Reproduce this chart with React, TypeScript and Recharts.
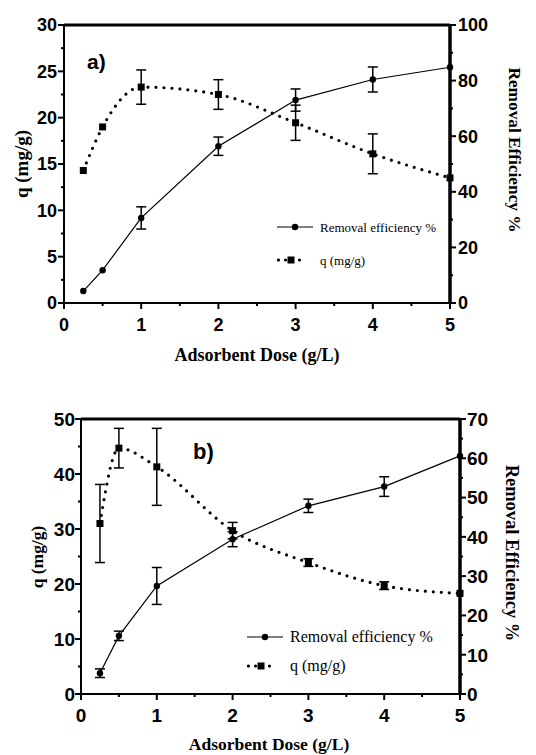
import { ComposedChart, Line, XAxis, YAxis, ErrorBar, ReferenceLine } from 'recharts';

const doses = [0.25, 0.5, 1, 2, 3, 4, 5];
const xTicks = [0, 0.5, 1, 1.5, 2, 2.5, 3, 3.5, 4, 4.5, 5];

// panel a
const removalA = [4.3, 11.8, 30.6, 56.4, 73, 80.4, 84.8];
const removalAErr = [0, 0, 4, 3.3, 4, 4.5, 0];
const qA = [14.3, 19.0, 23.3, 22.5, 19.45, 16.1, 13.5];
const qAErr = [0, 0, 1.85, 1.6, 1.9, 2.15, 0];
const leftTicksA = [0, 2.5, 5, 7.5, 10, 12.5, 15, 17.5, 20, 22.5, 25, 27.5, 30];
const rightTicksA = [0, 10, 20, 30, 40, 50, 60, 70, 80, 90, 100];

// panel b
const removalB = [5.3, 14.8, 27.5, 39.4, 47.9, 52.8, 60.6];
const removalBErr = [1.1, 1.2, 4.7, 1.9, 1.7, 2.5, 0];
const qB = [31.0, 44.7, 41.3, 29.7, 23.9, 19.7, 18.3];
const qBErr = [7.1, 3.6, 7.0, 1.5, 0.7, 0.7, 0];
const leftTicksB = [0, 5, 10, 15, 20, 25, 30, 35, 40, 45, 50];
const rightTicksB = [0, 5, 10, 15, 20, 25, 30, 35, 40, 45, 50, 55, 60, 65, 70];

const rowsA = doses.map((d, i) => ({ dose: d, removal: removalA[i], removalErr: removalAErr[i], q: qA[i], qErr: qAErr[i] }));
const rowsB = doses.map((d, i) => ({ dose: d, removal: removalB[i], removalErr: removalBErr[i], q: qB[i], qErr: qBErr[i] }));

const SANS = '"Liberation Sans", Arial, sans-serif';
const SERIF = '"Liberation Serif", "Times New Roman", serif';

const isMajor = (v: number, step: number) => Math.abs(v / step - Math.round(v / step)) < 1e-6;

function yTick(side: 'left' | 'right', step: number, fontSize: number, gap: number) {
    return (props: any) => {
        const { x, y, payload } = props;
        const v = payload.value;
        const major = isMajor(v, step);
        const dir = side === 'left' ? -1 : 1;
        const len = major ? 6 : 3;
        return (
            <g>
                <line x1={x} x2={x + dir * len} y1={y} y2={y} stroke="#000" strokeWidth={2} />
                {major && (
                    <text x={x + dir * gap} y={y} dy="0.36em" textAnchor={side === 'left' ? 'end' : 'start'}
                        fontFamily={SANS} fontWeight="bold" fontSize={fontSize} fill="#000">
                        {v}
                    </text>
                )}
            </g>
        );
    };
}

function xTick(fontSize: number, gap: number) {
    return (props: any) => {
        const { x, y, payload } = props;
        const v = payload.value;
        const major = isMajor(v, 1);
        return (
            <g>
                <line x1={x} x2={x} y1={y} y2={y + (major ? 6 : 3)} stroke="#000" strokeWidth={2} />
                {major && (
                    <text x={x} y={y + gap} dy="0.36em" textAnchor="middle"
                        fontFamily={SANS} fontWeight="bold" fontSize={fontSize} fill="#000">
                        {v}
                    </text>
                )}
            </g>
        );
    };
}

const circleDot = (p: any) => <circle key={`c-${p.index}`} cx={p.cx} cy={p.cy} r={3.2} fill="#000" />;
const squareDot = (p: any) => <rect key={`s-${p.index}`} x={p.cx - 3.5} y={p.cy - 3.5} width={7} height={7} fill="#000" />;

type PanelProps = {
    rows: any[];
    height: number;
    margin: { top: number; right: number; bottom: number; left: number };
    leftW: number;
    rightW: number;
    leftMax: number;
    rightMax: number;
    leftTicks: number[];
    rightTicks: number[];
    leftStep: number;
    rightStep: number;
    fontSize: number;
    gap: number;
    xGap: number;
};

function Panel(p: PanelProps) {
    return (
        <ComposedChart width={536} height={p.height} data={p.rows} margin={p.margin}>
            <XAxis dataKey="dose" type="number" domain={[0, 5]} ticks={xTicks} interval={0}
                height={30} tickSize={0} tickMargin={0} tickLine={false}
                axisLine={{ stroke: '#000', strokeWidth: 2 }} tick={xTick(p.fontSize, p.xGap)} />
            <YAxis yAxisId="left" orientation="left" domain={[0, p.leftMax]} ticks={p.leftTicks} interval={0}
                width={p.leftW} tickSize={0} tickMargin={0} tickLine={false}
                axisLine={{ stroke: '#000', strokeWidth: 2 }} tick={yTick('left', p.leftStep, p.fontSize, p.gap)} />
            <YAxis yAxisId="right" orientation="right" domain={[0, p.rightMax]} ticks={p.rightTicks} interval={0}
                width={p.rightW} tickSize={0} tickMargin={0} tickLine={false}
                axisLine={{ stroke: '#000', strokeWidth: 3.5 }} tick={yTick('right', p.rightStep, p.fontSize, p.gap + 1)} />
            <ReferenceLine yAxisId="left" y={p.leftMax} stroke="#000" strokeWidth={3} />
            <Line yAxisId="right" dataKey="removal" type="linear" stroke="#000" strokeWidth={1.2}
                dot={circleDot} activeDot={false} isAnimationActive={false}>
                <ErrorBar dataKey="removalErr" width={5} stroke="#000" strokeWidth={1.5} direction="y" />
            </Line>
            <Line yAxisId="left" dataKey="q" type="monotone" stroke="#000" strokeWidth={3.2}
                strokeDasharray="0 8" strokeLinecap="round" dot={squareDot} activeDot={false} isAnimationActive={false}>
                <ErrorBar dataKey="qErr" width={5} stroke="#000" strokeWidth={1.5} direction="y" />
            </Line>
        </ComposedChart>
    );
}

const abs = (left: number, top: number, extra: any = {}) => ({ position: 'absolute' as const, left, top, ...extra });

function VText({ x, y, text, rot, size }: { x: number; y: number; text: string; rot: number; size: number }) {
    return (
        <div style={abs(x, y, {
            transform: `translate(-50%, -50%) rotate(${rot}deg)`, whiteSpace: 'nowrap',
            fontFamily: SERIF, fontWeight: 'bold', fontSize: size, lineHeight: 1,
        })}>
            {text}
        </div>
    );
}

function LegendBox({ x, y, rowGap, size, textX }: { x: number; y: number; rowGap: number; size: number; textX: number }) {
    return (
        <>
            <svg style={abs(x, y - 6)} width={40} height={rowGap + 14}>
                <line x1={0} x2={36} y1={6} y2={6} stroke="#000" strokeWidth={1.2} />
                <circle cx={18} cy={6} r={3.2} fill="#000" />
                <line x1={1.5} x2={26} y1={6 + rowGap} y2={6 + rowGap} stroke="#000" strokeWidth={3.2}
                    strokeDasharray="0 7" strokeLinecap="round" />
                <rect x={10.5} y={2.5 + rowGap} width={7} height={7} fill="#000" />
            </svg>
            <div style={abs(textX, y, { transform: 'translateY(-50%)', fontFamily: SERIF, fontSize: size, whiteSpace: 'nowrap', lineHeight: 1 })}>
                Removal efficiency %
            </div>
            <div style={abs(textX, y + rowGap, { transform: 'translateY(-50%)', fontFamily: SERIF, fontSize: size, whiteSpace: 'nowrap', lineHeight: 1 })}>
                q (mg/g)
            </div>
        </>
    );
}

export default function App() {
    return (
        <div style={{ position: 'absolute', left: 0, top: 0, width: 536, height: 755, background: '#fff' }}>
            <div style={abs(0, 0)}>
                <Panel rows={rowsA} height={380} margin={{ top: 25, right: 0, bottom: 47, left: 0 }}
                    leftW={64} rightW={86} leftMax={30} rightMax={100} leftTicks={leftTicksA} rightTicks={rightTicksA}
                    leftStep={5} rightStep={20} fontSize={18} gap={7} xGap={22} />
            </div>
            <div style={abs(0, 380)}>
                <Panel rows={rowsB} height={375} margin={{ top: 39, right: 0, bottom: 31, left: 0 }}
                    leftW={81} rightW={76} leftMax={50} rightMax={70} leftTicks={leftTicksB} rightTicks={rightTicksB}
                    leftStep={10} rightStep={10} fontSize={19} gap={6} xGap={21} />
            </div>

            <div style={abs(87, 61, { transform: 'translateY(-50%)', fontFamily: SANS, fontWeight: 'bold', fontSize: 21, lineHeight: 1 })}>a)</div>
            <div style={abs(193, 452, { transform: 'translateY(-50%)', fontFamily: SANS, fontWeight: 'bold', fontSize: 22, lineHeight: 1 })}>b)</div>

            <VText x={21} y={164} text="q (mg/g)" rot={-90} size={19} />
            <VText x={514} y={150} text="Removal Efficiency %" rot={90} size={17.3} />
            <VText x={257} y={355} text="Adsorbent Dose (g/L)" rot={0} size={18} />

            <VText x={38} y={557} text="q (mg/g)" rot={-90} size={17.5} />
            <VText x={512} y={553} text="Removal Efficiency %" rot={90} size={18.5} />
            <VText x={269} y={745} text="Adsorbent Dose (g/L)" rot={0} size={17.5} />

            <LegendBox x={277} y={227} rowGap={33} size={13} textX={320} />
            <LegendBox x={247} y={637} rowGap={29} size={16} textX={290} />
        </div>
    );
}
